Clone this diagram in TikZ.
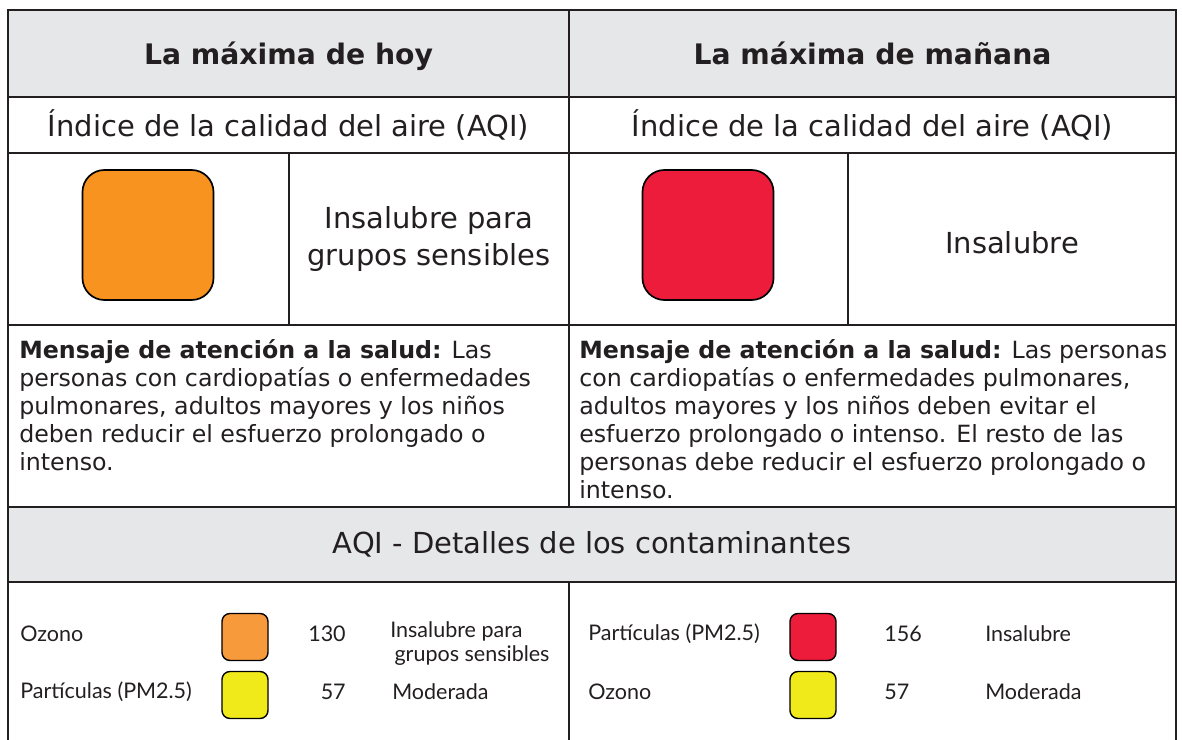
\documentclass[tikz,border=0pt]{standalone}
\usepackage{fontspec}
\setmainfont{DejaVu Sans}
\newfontfamily\gillfont{Lato}
\usetikzlibrary{positioning}
\definecolor{linegray}{HTML}{231F20}
\definecolor{headgray}{HTML}{E6E7E8}
\definecolor{aqiorange}{HTML}{F7931E}
\definecolor{aqilightorange}{HTML}{F79A3B}
\definecolor{aqired}{HTML}{EC1C3A}
\definecolor{aqiyellow}{HTML}{F1EA1A}
\tikzset{
    grid lines/.style={
        draw=linegray,
        line width=1.4pt
    },
    sub lines/.style={
        draw=linegray,
        line width=1.1pt
    },
    head text/.style={
        font=\fontsize{20.1}{24}\selectfont\bfseries,
        text=linegray,
        anchor=base
    },
    cell text/.style={
        font=\fontsize{20.6}{27}\selectfont,
        text=linegray,
        align=center
    },
    msg text/.style={
        font=\fontsize{16.85}{19.9}\selectfont,
        text=linegray,
        align=left,
        anchor=north west,
        inner sep=0pt
    },
    big swatch/.style={
        draw=black,
        line width=1.2pt,
        rounded corners=0.55cm,
        minimum width=3.275cm,
        minimum height=3.25cm,
        inner sep=0pt
    },
    small swatch/.style={
        draw=black,
        line width=1pt,
        rounded corners=0.2cm,
        minimum width=1.15cm,
        minimum height=1.175cm,
        inner sep=0pt
    },
    poll text/.style={
        font=\gillfont\fontsize{15.3}{17}\selectfont,
        text=linegray,
        inner sep=0pt
    }
}

\begin{document}
\begin{tikzpicture}[x=0.025cm,y=-0.025cm]
    \useasboundingbox (0,0) rectangle (1182,740);
    % table frame
    \fill[headgray] (8,10) rectangle (1176,97);
    \fill[headgray] (8,507) rectangle (1176,582);
    \draw[grid lines] (8,740) -- (8,10) -- (1176,10) -- (1176,740);
    \foreach \y in {97,153,325,507,582}
      \draw[grid lines] (8,\y) -- (1176,\y);
    \draw[grid lines] (569,10) -- (569,507) (569,582) -- (569,740);
    \draw[sub lines] (289,153) -- (289,325) (848,153) -- (848,325);

    % today / tomorrow
    \node[head text] (hdA) at (288.5,65) {La máxima de hoy};
    \node[head text] (hdB) at (872.5,65) {La máxima de mañana};
    \node[cell text] (idxA) at (288.5,125) {Índice de la calidad del aire (AQI)};
    \node[cell text] (idxB) at (872.5,125) {Índice de la calidad del aire (AQI)};
    \node[big swatch,fill=aqiorange] (sqA) at (148,235) {};
    \node[big swatch,fill=aqired] (sqB) at (708,235) {};
    \node[cell text] (catA) at (429,239) {Insalubre para\\grupos sensibles};
    \node[cell text] (catB) at (1012,243) {Insalubre};
    \node[msg text] (msgA) at (19,339) {\textbf{Mensaje de atención a la salud:} Las\\
      personas con cardiopatías o enfermedades\\
      pulmonares, adultos mayores y los niños\\
      deben reducir el esfuerzo prolongado o\\
      intenso.};
    \node[msg text] (msgB) at (579,339) {\textbf{Mensaje de atención a la salud:} Las personas\\
      con cardiopatías o enfermedades pulmonares,\\
      adultos mayores y los niños deben evitar el\\
      esfuerzo prolongado o intenso. El resto de las\\
      personas debe reducir el esfuerzo prolongado o\\
      intenso.};
    \node[cell text] (det) at (592,544.5) {AQI - Detalles de los contaminantes};

    % pollutants
    \foreach \i/\yy/\pol/\col/\val in {1/634/Ozono/aqilightorange/130,2/692/Partículas (PM2.5)/aqiyellow/57} {
      \node[poll text,anchor=west] (polA\i) at (20,\yy) {\pol};
      \node[small swatch,fill=\col] (swA\i) at (245,\yy+3) {};
      \node[poll text,anchor=east] (valA\i) at (346,\yy) {\val};
    }
    \foreach \i/\yy/\pol/\col/\val in {1/634/Partículas (PM2.5)/aqired/156,2/692/Ozono/aqiyellow/57} {
      \node[poll text,anchor=west] (polB\i) at (588,\yy) {\pol};
      \node[small swatch,fill=\col] (swB\i) at (813,\yy+3) {};
      \node[poll text,anchor=west] (valB\i) at (884,\yy) {\val};
    }
    \node[poll text,anchor=north west,align=left] (catA1) at (390,621) {Insalubre para\\\hspace{3pt}grupos sensibles};
    \node[poll text,anchor=west] (catA2) at (392,692) {Moderada};
    \node[poll text,anchor=west] (catB1) at (985,634) {Insalubre};
    \node[poll text,anchor=west] (catB2) at (985,692) {Moderada};
\end{tikzpicture}
\end{document}
